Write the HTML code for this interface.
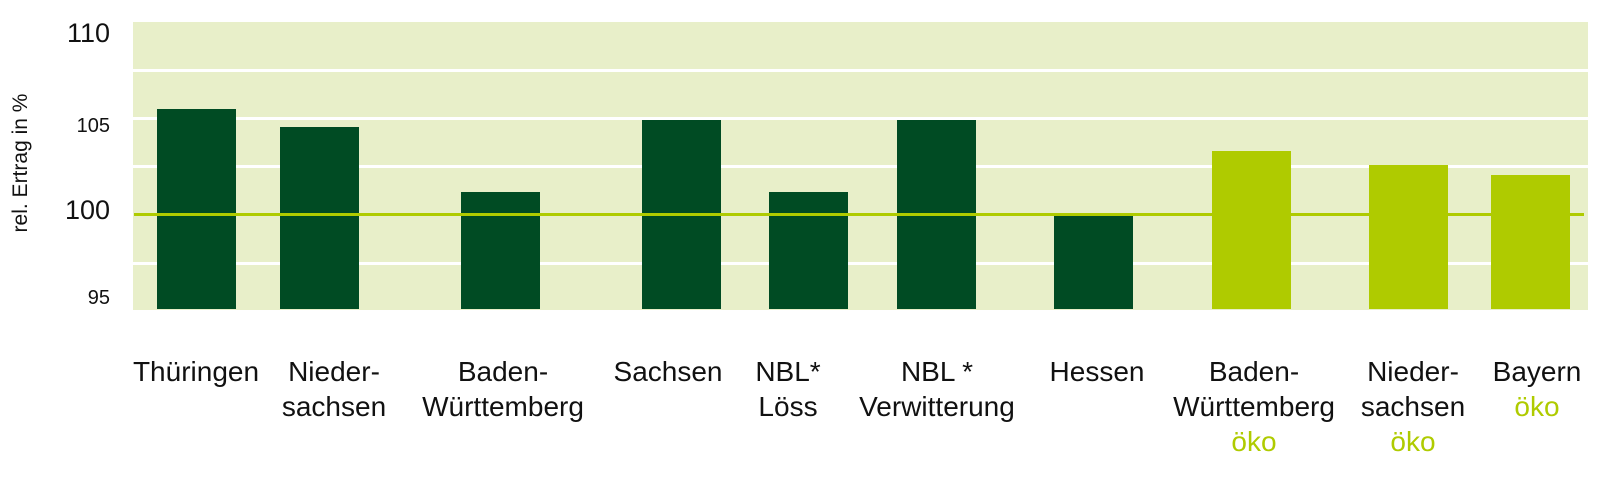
<!DOCTYPE html>
<html><head><style>
body{margin:0;width:1600px;height:478px;background:#fff;position:relative;overflow:hidden;font-family:"Liberation Sans",sans-serif;}
.a{position:absolute}
.bg{left:133px;top:22px;width:1455px;height:288px;background:#e8efc9}
.g{left:133px;width:1455px;height:3px;background:#fff}
.b{width:79px;bottom:169px;background:#004b23;position:absolute}
.l{background:#afcb00}
.t{position:absolute;font-size:20px;color:#111;text-align:right;width:60px;left:50px;line-height:24px}
.x{position:absolute;top:354px;font-size:28px;line-height:35px;text-align:center;color:#111;transform:translateX(-50%);white-space:nowrap}
.o{color:#afcb00}
</style></head><body>
<div class="a bg"></div>
<div class="a g" style="top:69px"></div>
<div class="a g" style="top:117px"></div>
<div class="a g" style="top:165px"></div>
<div class="a g" style="top:262px"></div>
<div class="b" style="left:157px;top:109px"></div>
<div class="b" style="left:280px;top:127px"></div>
<div class="b" style="left:461px;top:192px"></div>
<div class="b" style="left:642px;top:120px"></div>
<div class="b" style="left:769px;top:192px"></div>
<div class="b" style="left:897px;top:120px"></div>
<div class="b" style="left:1054px;top:216px"></div>
<div class="b l" style="left:1212px;top:151px"></div>
<div class="b l" style="left:1369px;top:165px"></div>
<div class="b l" style="left:1491px;top:175px"></div>
<div class="a" style="left:134px;top:213px;width:1450px;height:3px;background:#afcb00"></div>
<div class="t" style="top:21px;font-size:27px">110</div>
<div class="t" style="top:114px">105</div>
<div class="t" style="top:198px;font-size:27px">100</div>
<div class="t" style="top:286px">95</div>
<div class="a" style="left:21px;top:163px;transform:translate(-50%,-50%) rotate(-90deg);font-size:21px;white-space:nowrap;color:#111">rel. Ertrag in %</div>
<div class="x" style="left:196px">Thüringen</div>
<div class="x" style="left:334px">Nieder-<br>sachsen</div>
<div class="x" style="left:503px">Baden-<br>Württemberg</div>
<div class="x" style="left:668px">Sachsen</div>
<div class="x" style="left:788px">NBL*<br>Löss</div>
<div class="x" style="left:937px">NBL *<br>Verwitterung</div>
<div class="x" style="left:1097px">Hessen</div>
<div class="x" style="left:1254px">Baden-<br>Württemberg<br><span class="o">öko</span></div>
<div class="x" style="left:1413px">Nieder-<br>sachsen<br><span class="o">öko</span></div>
<div class="x" style="left:1537px">Bayern<br><span class="o">öko</span></div>
</body></html>
